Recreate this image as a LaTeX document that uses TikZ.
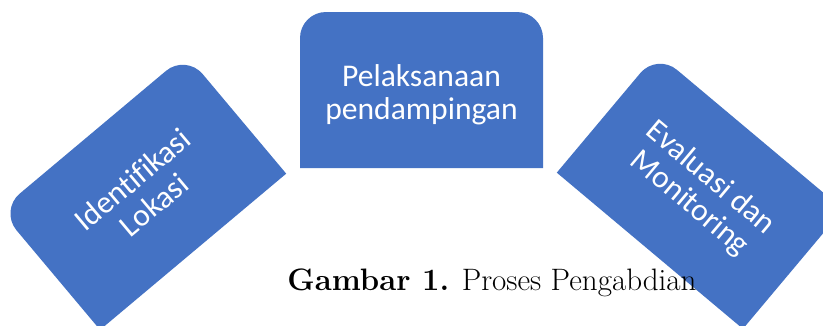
\documentclass[tikz,border=0pt]{standalone}
\usepackage{fontspec}
\newfontfamily\carlito[Ligatures=NoCommon]{Carlito}
\definecolor{boxblue}{HTML}{4472C4}
\tikzset{
  procshape/.pic={
    \fill[boxblue] (-121.5,-78) -- (121.5,-78) -- (121.5,52)
      arc[start angle=0,end angle=90,radius=26] -- (-95.5,78)
      arc[start angle=90,end angle=180,radius=26] -- cycle;
  },
  boxtext/.style={text=white,align=center,inner sep=0pt,
    font=\carlito\fontsize{31.6}{33}\selectfont},
  captext/.style={anchor=base,inner sep=0pt,font=\fontsize{31}{36}\selectfont}
}

\begin{document}
\begin{tikzpicture}[x=1pt,y=1pt]
  \useasboundingbox (0,0) rectangle (823,325);
  \clip (0,0) rectangle (823,325);
  \fill[white] (0,0) rectangle (823,325);
  % three steps
  \pic[rotate=40] at (143,133) {procshape};
  \pic at (421.5,235) {procshape};
  \pic[rotate=-40] at (700,134) {procshape};
  \node[boxtext,rotate=40] (ident) at (143,133) {Identifikasi\\Lokasi};
  \node[boxtext] (pelak) at (421.5,230.5) {Pelaksanaan\\pendampingan};
  \node[boxtext,rotate=-40] (evalu) at (700,134) {Evaluasi dan\\Monitoring};
  % caption
  \node[captext] (caption) at (492,35) {\textbf{Gambar 1.} Proses Pengabdian};
\end{tikzpicture}
\end{document}
